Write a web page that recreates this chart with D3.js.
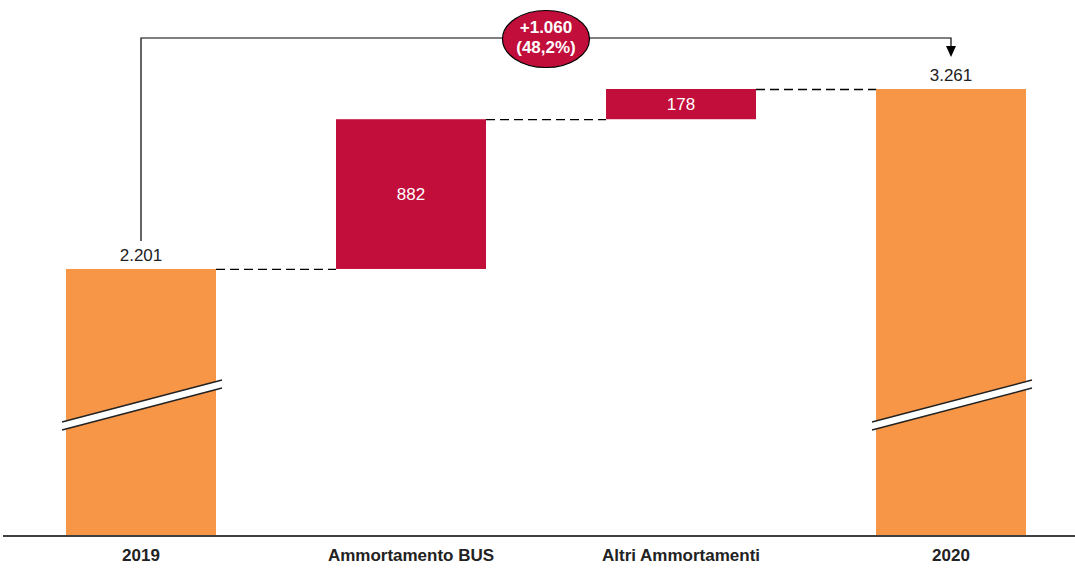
<!DOCTYPE html>
<meta charset="utf-8">
<style>

body {
  margin: 0;
  background: #fff;
}

text {
  font-family: "Liberation Sans", Arial, sans-serif;
}

</style>
<svg></svg>
<script src="https://d3js.org/d3.v7.min.js"></script>
<script>

var categories = ["2019", "Ammortamento BUS", "Altri Ammortamenti", "2020"],
    kinds = ["total", "delta", "delta", "total"],
    values = [2201, 882, 178, 3261],
    valueLabels = ["2.201", "882", "178", "3.261"],
    deltaLabel = ["+1.060", "(48,2%)"];

var width = 1075,
    height = 568;

var orange = "#f79646",
    crimson = "#c20e3b";

var svg = d3.select("svg")
    .attr("width", width)
    .attr("height", height);

// broken axis: the bars start well above zero
var x = d3.scaleBand()
    .domain(categories)
    .range([6, 1086])
    .paddingInner(120 / 270)
    .paddingOuter(60 / 270);

var y = d3.scaleLinear()
    .domain([634, 3261])
    .range([535, 89]);

// running totals for the waterfall
var steps = [], run = 0;
values.forEach(function(v, i) {
  if (kinds[i] == "total") {
    steps.push({cat: categories[i], kind: "total", lo: y.domain()[0], hi: v, label: valueLabels[i]});
    run = v;
  } else {
    steps.push({cat: categories[i], kind: "delta", lo: run, hi: run + v, label: valueLabels[i]});
    run += v;
  }
});

// dashed connectors
for (var i = 0; i < steps.length - 1; i++) {
  svg.append("line")
      .attr("x1", x(steps[i].cat) + x.bandwidth())
      .attr("x2", x(steps[i + 1].cat))
      .attr("y1", y(steps[i].hi) + 0.5)
      .attr("y2", y(steps[i].hi) + 0.5)
      .attr("stroke", "#000")
      .attr("stroke-width", 1.3)
      .attr("stroke-dasharray", "9,5");
}

svg.selectAll("rect.bar")
    .data(steps)
  .enter().append("rect")
    .attr("class", "bar")
    .attr("x", function(d) { return x(d.cat); })
    .attr("width", x.bandwidth())
    .attr("y", function(d) { return y(d.hi); })
    .attr("height", function(d) { return y(d.lo) - y(d.hi); })
    .attr("fill", function(d) { return d.kind == "total" ? orange : crimson; });

// break marks on the total bars
steps.filter(function(d) { return d.kind == "total"; }).forEach(function(d) {
  var x0 = x(d.cat) - 4, x1 = x(d.cat) + x.bandwidth() + 6;
  var g = svg.append("g");
  g.append("polygon")
      .attr("points", [[x0, 422], [x1, 380], [x1, 388], [x0, 430]].join(" "))
      .attr("fill", "#fff");
  g.append("line").attr("x1", x0).attr("y1", 422).attr("x2", x1).attr("y2", 380)
      .attr("stroke", "#222").attr("stroke-width", 1.5);
  g.append("line").attr("x1", x0).attr("y1", 430).attr("x2", x1).attr("y2", 388)
      .attr("stroke", "#222").attr("stroke-width", 1.5);
});

// value labels
svg.selectAll("text.value")
    .data(steps)
  .enter().append("text")
    .attr("class", "value")
    .attr("x", function(d) { return x(d.cat) + x.bandwidth() / 2; })
    .attr("y", function(d) {
      return d.kind == "total" ? y(d.hi) - 8 : (y(d.hi) + y(d.lo)) / 2 + 6;
    })
    .attr("text-anchor", "middle")
    .attr("font-size", 17)
    .attr("fill", function(d) { return d.kind == "total" ? "#222" : "#fff"; })
    .text(function(d) { return d.label; });

// axis baseline and category labels
svg.append("line")
    .attr("x1", 3).attr("x2", width)
    .attr("y1", 536).attr("y2", 536)
    .attr("stroke", "#000")
    .attr("stroke-width", 1.5);

svg.selectAll("text.cat")
    .data(categories)
  .enter().append("text")
    .attr("class", "cat")
    .attr("x", function(d) { return x(d) + x.bandwidth() / 2; })
    .attr("y", 561)
    .attr("text-anchor", "middle")
    .attr("font-size", 17)
    .attr("font-weight", "bold")
    .attr("fill", "#222")
    .text(function(d) { return d; });

// overall change bracket
var first = steps[0], last = steps[steps.length - 1];
var xa = x(first.cat) + x.bandwidth() / 2,
    xb = x(last.cat) + x.bandwidth() / 2,
    bracketY = 38;

svg.append("path")
    .attr("d", "M" + xa + "," + (y(first.hi) - 28) + "V" + bracketY + "H" + xb + "V" + 47)
    .attr("fill", "none")
    .attr("stroke", "#000")
    .attr("stroke-width", 1.2);

svg.append("path")
    .attr("d", "M" + (xb - 5) + "," + 46 + "L" + (xb + 5) + "," + 46 + "L" + xb + "," + 57 + "Z")
    .attr("fill", "#000");

var cx = (xa + xb) / 2;
svg.append("ellipse")
    .attr("cx", cx)
    .attr("cy", 39)
    .attr("rx", 43.5)
    .attr("ry", 28.5)
    .attr("fill", crimson)
    .attr("stroke", "#000")
    .attr("stroke-width", 1.2);

svg.selectAll("text.delta")
    .data(deltaLabel)
  .enter().append("text")
    .attr("class", "delta")
    .attr("x", cx)
    .attr("y", function(d, i) { return 33 + i * 20; })
    .attr("text-anchor", "middle")
    .attr("font-size", 17)
    .attr("font-weight", "bold")
    .attr("fill", "#fff")
    .text(function(d) { return d; });

</script>
